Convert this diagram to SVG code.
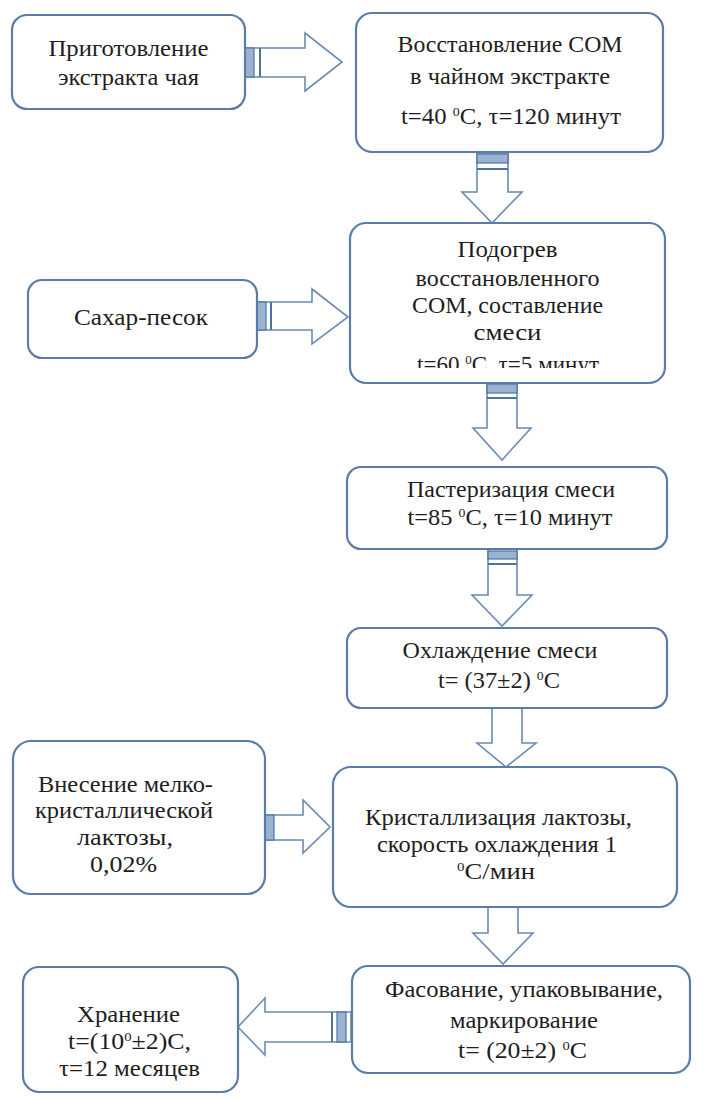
<svg xmlns="http://www.w3.org/2000/svg" width="706" height="1099" viewBox="0 0 706 1099">
<style>
.box{fill:#fff;stroke:#5a7ca6;stroke-width:2.2}
.arr{fill:#fff;stroke:#6a8bb3;stroke-width:1.6}
.st{fill:#9bb3d1;stroke:#4d73a0;stroke-width:1.2}
.ln{stroke:#4d73a0;stroke-width:2}
.t{font-family:'Liberation Serif','Times New Roman',serif;font-size:23px;text-anchor:middle;fill:#1e1e1e}
.sup{font-size:13px}
</style>
<defs>
<clipPath id="clip3"><rect x="350" y="223" width="315" height="145"/></clipPath>
</defs>
<rect width="706" height="1099" fill="#fff"/>

<g id="connectors">
  <path class="arr" d="M245,48 H305 V33 L342,62 L305,91 V77 H245 Z"/>
  <rect class="st" x="245" y="48" width="9" height="29"/>
  <line class="ln" x1="260" y1="48" x2="260" y2="77"/>
  <path class="arr" d="M477,153 V192 H462 L492,223 L522,192 H508 V153 Z"/>
  <rect class="st" x="477" y="154" width="31" height="9"/>
  <line class="ln" x1="477" y1="169" x2="508" y2="169"/>
  <path class="arr" d="M257,302 H312 V289 L348,317 L312,344 V330 H257 Z"/>
  <rect class="st" x="257" y="302" width="9" height="28"/>
  <line class="ln" x1="271" y1="302" x2="271" y2="330"/>
  <path class="arr" d="M487,383 V428 H473 L502,460 L531,428 H517 V383 Z"/>
  <rect class="st" x="487" y="384" width="30" height="9"/>
  <line class="ln" x1="487" y1="398" x2="517" y2="398"/>
  <path class="arr" d="M488,549 V595 H472 L502,626 L532,595 H517 V549 Z"/>
  <rect class="st" x="488" y="551" width="29" height="8"/>
  <line class="ln" x1="488" y1="564" x2="517" y2="564"/>
  <path class="arr" d="M492,708 V743 H477 L506,767 L536,743 H522 V708 Z"/>
  <path class="arr" d="M265,815 H303 V800 L330,827 L303,853 V840 H265 Z"/>
  <rect class="st" x="265" y="815" width="9" height="25"/>
  <path class="arr" d="M488,907 V933 H473 L503,964 L533,933 H518 V907 Z"/>
  <path class="arr" d="M351,1012 H265 V998 L238,1027 L265,1055 V1042 H351 Z"/>
  <line class="ln" x1="332" y1="1012" x2="332" y2="1042"/>
  <rect class="st" x="337" y="1012" width="9" height="30"/>
</g>

<g font-family="Liberation Serif, Times New Roman, serif">
<g id="n1">
  <rect class="box" x="12" y="15" width="233" height="94" rx="15"/>
  <text class="t" x="128.5" y="56" textLength="160" lengthAdjust="spacingAndGlyphs">Приготовление</text>
  <text class="t" x="128.5" y="85" textLength="141" lengthAdjust="spacingAndGlyphs">экстракта чая</text>
</g>

<g id="n2">
  <rect class="box" x="356" y="13" width="307" height="139" rx="16"/>
  <text class="t" x="510" y="52" textLength="225" lengthAdjust="spacingAndGlyphs">Восстановление СОМ</text>
  <text class="t" x="510" y="84" textLength="200" lengthAdjust="spacingAndGlyphs">в чайном экстракте</text>
  <text class="t" x="511" y="124" textLength="220" lengthAdjust="spacingAndGlyphs">t=40 <tspan class="sup" dy="-8">0</tspan><tspan dy="8">С, τ=120 минут</tspan></text>
</g>

<g id="n3">
  <rect class="box" x="350" y="223" width="315" height="160" rx="16"/>
  <g clip-path="url(#clip3)">
    <text class="t" x="507.5" y="257" textLength="100" lengthAdjust="spacingAndGlyphs">Подогрев</text>
    <text class="t" x="507.5" y="286" textLength="184" lengthAdjust="spacingAndGlyphs">восстановленного</text>
    <text class="t" x="507.5" y="313" textLength="191" lengthAdjust="spacingAndGlyphs">СОМ, составление</text>
    <text class="t" x="507.5" y="340" textLength="68" lengthAdjust="spacingAndGlyphs">смеси</text>
    <text class="t" x="508" y="372" textLength="182" lengthAdjust="spacingAndGlyphs">t=60 <tspan class="sup" dy="-8">0</tspan><tspan dy="8">С, τ=5 минут</tspan></text>
  </g>
</g>

<g id="n_sugar">
  <rect class="box" x="28" y="280" width="229" height="78" rx="14"/>
  <text class="t" x="141" y="325" textLength="134" lengthAdjust="spacingAndGlyphs">Сахар-песок</text>
</g>

<g id="n4">
  <rect class="box" x="347" y="467" width="320" height="82" rx="14"/>
  <text class="t" x="511" y="497" textLength="208" lengthAdjust="spacingAndGlyphs">Пастеризация смеси</text>
  <text class="t" x="510" y="525" textLength="205" lengthAdjust="spacingAndGlyphs">t=85 <tspan class="sup" dy="-8">0</tspan><tspan dy="8">С, τ=10 минут</tspan></text>
</g>

<g id="n5">
  <rect class="box" x="347" y="628" width="320" height="80" rx="14"/>
  <text class="t" x="500" y="658" textLength="195" lengthAdjust="spacingAndGlyphs">Охлаждение смеси</text>
  <text class="t" x="499" y="688" textLength="122" lengthAdjust="spacingAndGlyphs">t= (37±2) <tspan class="sup" dy="-8">0</tspan><tspan dy="8">С</tspan></text>
</g>

<g id="n_lactose">
  <rect class="box" x="13" y="741" width="252" height="153" rx="18"/>
  <text class="t" x="125.5" y="792" textLength="175" lengthAdjust="spacingAndGlyphs">Внесение мелко-</text>
  <text class="t" x="124" y="818" textLength="178" lengthAdjust="spacingAndGlyphs">кристаллической</text>
  <text class="t" x="125" y="845" textLength="96" lengthAdjust="spacingAndGlyphs">лактозы,</text>
  <text class="t" x="123.5" y="872" textLength="67" lengthAdjust="spacingAndGlyphs">0,02%</text>
</g>

<g id="n6">
  <rect class="box" x="333" y="767" width="344" height="140" rx="18"/>
  <text class="t" x="498.5" y="825" textLength="267" lengthAdjust="spacingAndGlyphs">Кристаллизация лактозы,</text>
  <text class="t" x="497" y="852" textLength="240" lengthAdjust="spacingAndGlyphs">скорость охлаждения 1</text>
  <text class="t" x="496" y="879" textLength="78" lengthAdjust="spacingAndGlyphs"><tspan class="sup" dy="-8">0</tspan><tspan dy="8">С/мин</tspan></text>
</g>

<g id="n7">
  <rect class="box" x="352" y="966" width="338" height="107" rx="16"/>
  <text class="t" x="524" y="997" textLength="278" lengthAdjust="spacingAndGlyphs">Фасование, упаковывание,</text>
  <text class="t" x="524" y="1028" textLength="148" lengthAdjust="spacingAndGlyphs">маркирование</text>
  <text class="t" x="522.5" y="1058" textLength="129" lengthAdjust="spacingAndGlyphs">t= (20±2) <tspan class="sup" dy="-8">0</tspan><tspan dy="8">С</tspan></text>
</g>

<g id="n8">
  <rect class="box" x="23" y="967" width="215" height="125" rx="16"/>
  <text class="t" x="128.5" y="1022" textLength="103" lengthAdjust="spacingAndGlyphs">Хранение</text>
  <text class="t" x="129.5" y="1049" textLength="123" lengthAdjust="spacingAndGlyphs">t=(10<tspan class="sup" dy="-8">0</tspan><tspan dy="8">±2)С,</tspan></text>
  <text class="t" x="129.5" y="1076" textLength="141" lengthAdjust="spacingAndGlyphs">τ=12 месяцев</text>
</g>
</g>
</svg>
